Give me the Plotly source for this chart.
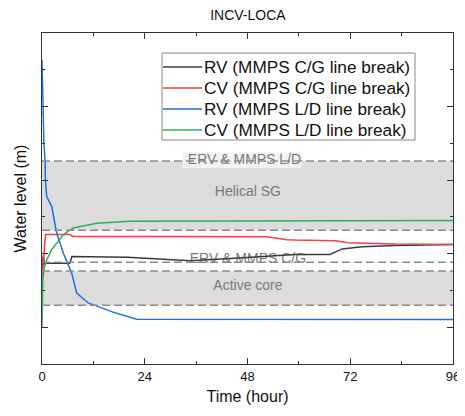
import plotly.graph_objects as go

# ---- data ----
t_rv_cg = [0, 0.3, 0.6, 1.0, 6.5, 7.0, 20, 27.6, 34.6, 46, 55.6, 59.1, 67.3, 70.1, 74.8, 82.5, 96]
y_rv_cg = [2.55, 2.95, 2.72, 2.74, 2.74, 2.92, 2.90, 2.85, 2.81, 2.88, 2.96, 2.98, 2.98, 3.13, 3.19, 3.22, 3.25]

t_cv_cg = [0, 0.4, 0.8, 6.5, 7.2, 24.8, 40, 52.6, 57.2, 59.1, 68.5, 71.5, 82.5, 96]
y_cv_cg = [2.28, 2.9, 3.52, 3.52, 3.47, 3.47, 3.46, 3.46, 3.38, 3.37, 3.35, 3.30, 3.26, 3.25]

t_rv_ld = [0, 0.2, 0.45, 0.7, 0.8, 1.1, 2.27, 3.43, 4.98, 6.94, 8.1, 10.8, 16.6, 22.1, 96]
y_rv_ld = [8.27, 7.0, 6.0, 5.55, 5.0, 4.55, 4.28, 3.56, 3.02, 2.47, 1.93, 1.66, 1.41, 1.22, 1.21]

t_cv_ld = [0, 0.2, 0.5, 1.1, 2.2, 3.43, 5.0, 7.3, 12.8, 20.6, 48, 72, 96]
y_cv_ld = [1.0, 2.28, 2.6, 2.83, 3.1, 3.29, 3.52, 3.70, 3.83, 3.88, 3.89, 3.90, 3.90]

series_names = ["RV (MMPS C/G line break)", "CV (MMPS C/G line break)",
                "RV (MMPS L/D line break)", "CV (MMPS L/D line break)"]
series_colors = ["#3c3c3c", "#ff3b3b", "#1f6fe0", "#2eb060"]

# reference levels (y units)
helical_sg = (3.635, 5.52)
active_core = (1.60, 2.53)
erv_cg_level = 2.77
region_labels = ["ERV & MMPS L/D", "Helical SG", "ERV & MMPS C/G", "Active core"]
region_label_y = [5.53, 4.65, 2.83, 2.10]
region_label_x = [47.3, 48.1, 48.1, 48.1]

x_ticks = [0, 24, 48, 72, 96]

FONT = "Arial, Liberation Sans, sans-serif"

fig = go.Figure()

# region labels as text traces (so dashed lines can be drawn over them)
fig.add_trace(go.Scatter(x=region_label_x, y=region_label_y, mode="text", text=region_labels,
                         textfont=dict(family=FONT, size=14, color="#7a7a7a"),
                         showlegend=False, hoverinfo="skip"))

for t, y, n, c in zip([t_rv_cg, t_cv_cg, t_rv_ld, t_cv_ld],
                      [y_rv_cg, y_cv_cg, y_rv_ld, y_cv_ld],
                      series_names, series_colors):
    fig.add_trace(go.Scatter(x=t, y=y, mode="lines", name=n, showlegend=False,
                             line=dict(color=c, width=1.5)))

shapes = []
annotations = []
band_fill = "#dcdcdc"
for lo, hi in [helical_sg, active_core]:
    shapes.append(dict(type="rect", xref="x", yref="y", x0=0, x1=96, y0=lo, y1=hi,
                       fillcolor=band_fill, line=dict(width=0), layer="below"))
# light background behind the top label
shapes.append(dict(type="rect", xref="x", yref="y", x0=32.9, x1=60.7, y0=5.33, y1=5.76,
                   fillcolor="#f2f2f2", line=dict(width=0), layer="below"))
for lvl in [helical_sg[0], helical_sg[1], erv_cg_level, active_core[0], active_core[1]]:
    shapes.append(dict(type="line", xref="x", yref="y", x0=0, x1=96, y0=lvl, y1=lvl,
                       line=dict(color="#8c8c8c", width=1.5, dash="8px,4px"), layer="above"))

# legend box (drawn in paper coordinates)
shapes.append(dict(type="rect", xref="paper", yref="paper", x0=0.292, x1=0.9075,
                   y0=0.6767, y1=0.9396, fillcolor="white",
                   line=dict(color="#888888", width=1), layer="above"))
legend_rows = [0.8973, 0.8338, 0.7704, 0.7069]
for ry, n, c in zip(legend_rows, series_names, series_colors):
    shapes.append(dict(type="line", xref="paper", yref="paper", x0=0.2944, x1=0.3893,
                       y0=ry, y1=ry, line=dict(color=c, width=1.5), layer="above"))
    annotations.append(dict(xref="paper", yref="paper", x=0.390, y=ry, text=n,
                            xanchor="left", yanchor="middle", showarrow=False,
                            font=dict(family=FONT, size=17.2, color="#111111")))

axis_common = dict(showline=True, linecolor="#333333", linewidth=1.3, mirror="ticks",
                   ticks="inside", tickcolor="#333333", tickwidth=1.3, ticklen=6,
                   showgrid=False, zeroline=False)

# the page body adds an 8px offset, so the figure is sized/margined to compensate
fig.update_layout(
    width=457, height=408,
    margin=dict(l=34, r=12, t=25, b=52),
    paper_bgcolor="white", plot_bgcolor="white",
    font=dict(family=FONT, color="#111111"),
    title=dict(text="INCV-LOCA", x=0.525, xanchor="center", y=0.983, yanchor="middle",
               font=dict(family=FONT, size=14, color="#111111")),
    shapes=shapes,
    annotations=annotations,
    showlegend=False,
    xaxis=dict(range=[0, 96], tickvals=x_ticks, ticktext=[str(v) for v in x_ticks],
               minor=dict(ticks="inside", ticklen=3, dtick=12, tick0=0, tickcolor="#333333"),
               tickfont=dict(family=FONT, size=13, color="#111111"),
               title=dict(text="Time (hour)", font=dict(family=FONT, size=16), standoff=8),
               automargin=False,
               **axis_common),
    yaxis=dict(range=[0, 9], tick0=1, dtick=2, showticklabels=False,
               minor=dict(ticks="inside", ticklen=3, dtick=1, tick0=0, tickcolor="#333333"),
               title=dict(text="Water level (m)", font=dict(family=FONT, size=16), standoff=10),
               automargin=False,
               **axis_common),
)

fig.write_html("out.html")
